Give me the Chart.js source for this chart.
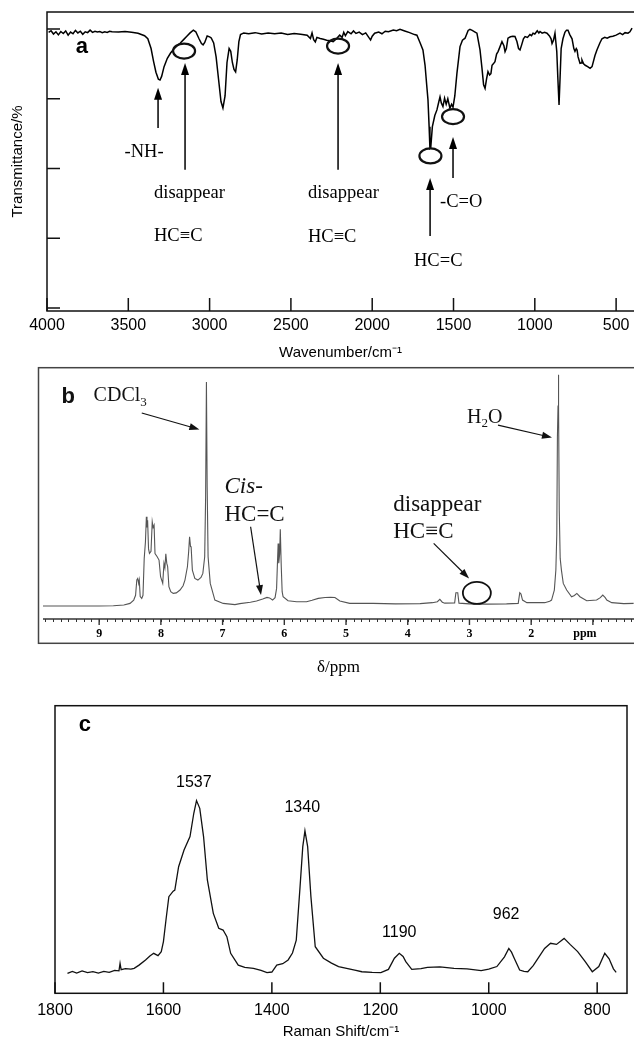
<!DOCTYPE html>
<html><head><meta charset="utf-8">
<script src="https://cdn.jsdelivr.net/npm/chart.js@4.4.1/dist/chart.umd.min.js"></script>
<style>
html,body{margin:0;padding:0;background:#fff;width:634px;height:1039px;overflow:hidden;position:relative}
canvas{position:absolute;left:0}
</style></head><body>
<canvas id="ca" width="634" height="370" style="top:0px"></canvas>
<canvas id="cb" width="634" height="320" style="top:360px"></canvas>
<canvas id="cc" width="634" height="360" style="top:690px"></canvas>
<script>
// ---------- Panel a : FT-IR ----------
const irWavenumber = [3990,3975,3960,3945,3930,3915,3900,3885,3870,3855,3840,3825,3810,3795,3780,3765,3750,3735,3720,3705,3690,3675,3660,3645,3630,3615,3600,3560,3520,3480,3440,3400,3380,3360,3345,3330,3315,3305,3295,3280,3260,3240,3220,3200,3180,3160,3140,3120,3100,3085,3065,3050,3040,3030,3015,3000,2990,2975,2960,2945,2930,2918,2905,2893,2880,2870,2860,2850,2840,2830,2820,2810,2790,2760,2720,2680,2640,2600,2560,2520,2480,2440,2400,2380,2370,2360,2350,2340,2320,2300,2280,2260,2240,2220,2200,2185,2175,2165,2150,2130,2115,2100,2080,2060,2040,2020,2010,2000,1985,1960,1940,1920,1900,1870,1850,1829,1800,1770,1740,1725,1705,1688,1675,1665,1657,1650,1645,1640,1630,1615,1602,1590,1583,1575,1565,1555,1545,1535,1522,1512,1503,1492,1479,1460,1445,1429,1410,1399,1385,1370,1356,1345,1337,1325,1315,1306,1297,1288,1278,1270,1263,1255,1245,1235,1226,1215,1202,1190,1183,1175,1165,1150,1135,1122,1110,1100,1091,1080,1070,1060,1045,1030,1020,1011,1000,985,975,968,955,940,925,910,900,894,885,876,865,858,851,845,838,827,815,805,796,785,771,760,753,745,740,734,722,715,710,700,690,675,660,648,630,618,600,587,570,555,538,520,500,476,460,445,427,415,402];
const irTransmittance = [98.8,99.4,98.2,99.0,97.9,99.1,98.4,99.3,97.8,98.9,98.3,99.5,98.6,99.2,98.1,99.0,98.7,99.6,98.8,99.2,98.9,99.1,98.7,99.0,98.8,99.2,99.0,98.9,99.1,98.8,98.5,97.6,96.5,93.0,88.5,84.5,82.0,81.7,83.0,86.5,89.5,91.4,92.8,94.0,95.0,96.2,97.4,98.6,99.6,99.0,96.5,94.8,94.3,95.2,97.5,97.2,96.8,95.0,90.0,82.0,74.0,71.7,76.0,88.0,93.0,92.0,88.0,85.5,84.6,89.0,95.5,98.0,98.6,98.3,98.7,98.2,98.6,98.3,98.6,98.0,98.4,98.1,97.8,96.6,98.6,96.2,95.4,97.0,96.6,96.3,96.0,95.8,95.5,96.5,97.8,97.0,98.8,97.6,99.1,98.3,99.3,98.4,98.9,98.0,98.6,96.9,96.1,97.4,98.5,98.9,98.3,99.2,99.0,99.6,99.4,99.9,99.3,98.7,98.0,97.8,95.0,92.5,87.0,80.0,74.6,65.0,57.2,57.5,65.0,69.0,71.0,74.0,75.7,73.5,72.2,75.2,73.0,75.0,71.6,73.0,72.0,76.0,84.1,93.7,96.0,96.7,99.5,99.9,99.5,99.0,98.5,95.0,92.5,86.0,80.0,78.7,82.0,84.7,83.5,84.0,87.0,87.5,88.3,91.0,91.9,93.5,95.5,94.0,91.9,93.0,96.7,97.2,97.4,97.3,95.5,93.0,92.5,94.5,96.5,97.3,97.0,98.0,97.6,98.5,98.2,99.4,98.6,99.1,98.5,98.8,98.5,97.5,96.5,94.8,96.0,98.5,92.0,82.0,72.8,82.0,93.0,96.5,98.8,99.6,99.6,98.0,96.5,93.0,92.0,93.0,92.5,90.0,87.7,87.8,88.9,87.5,87.0,86.5,85.9,86.5,90.5,92.5,95.0,96.5,97.0,96.7,97.2,97.4,97.8,98.5,98.0,98.7,98.5,99.0,100.3];
const irTickValues = [4000,3500,3000,2500,2000,1500,1000,500];
const irYTickValues = [0,25,50,75,100];
const irArrows = [[3317,64.5,3317,78.9],[3151,49.5,3151,87.8],[2210,49.5,2210,87.8],[1644,25.8,1644,46.6],[1503,46.6,1503,61.3]];
const irCircles = [[3157,92.1],[2210,93.9],[1642,54.5],[1503,68.6]];
const irLabelText = ['-NH-','disappear','HC≡C','disappear','HC≡C','HC=C','-C=O'];
const irLabelX = [3403,3342,3342,2395,2395,1743,1583];
const irLabelY = [55.9,41.2,25.8,41.2,25.4,16.8,38.0];

// ---------- Panel b : 1H NMR ----------
const nmrShift = [9.91,9.0,8.77,8.60,8.50,8.44,8.41,8.39,8.375,8.36,8.35,8.335,8.31,8.29,8.27,8.25,8.235,8.225,8.215,8.20,8.185,8.16,8.14,8.125,8.11,8.095,8.06,8.03,8.005,7.97,7.95,7.935,7.92,7.905,7.89,7.87,7.84,7.80,7.75,7.69,7.64,7.61,7.57,7.55,7.535,7.52,7.51,7.49,7.45,7.40,7.35,7.32,7.29,7.275,7.262,7.25,7.235,7.20,7.125,6.99,6.80,6.72,6.55,6.45,6.35,6.28,6.24,6.19,6.15,6.125,6.11,6.10,6.09,6.075,6.065,6.05,6.035,6.02,5.94,5.80,5.64,5.55,5.45,5.34,5.25,5.18,5.10,4.94,4.56,4.20,3.80,3.60,3.52,3.48,3.44,3.40,3.24,3.22,3.19,3.17,3.00,2.72,2.40,2.21,2.185,2.165,2.14,2.07,1.885,1.78,1.70,1.67,1.625,1.60,1.585,1.575,1.565,1.56,1.553,1.545,1.53,1.51,1.48,1.425,1.345,1.30,1.26,1.21,1.10,0.94,0.88,0.84,0.80,0.775,0.695,0.50,0.34];
const nmrIntensity = [0.0,0.0,0.1,0.4,1.1,2.5,4.5,11.0,11.6,9.5,10.9,4.0,3.2,4.5,20.0,27.0,37.5,33.0,36.0,24.0,22.1,23.0,35.4,33.0,34.0,22.0,20.7,19.3,12.3,9.5,17.9,16.0,21.9,18.0,16.5,8.1,6.0,5.3,5.5,6.7,8.5,10.9,16.5,22.8,29.1,25.0,24.9,15.1,11.6,10.9,12.0,13.7,20.7,45.9,94.1,50.0,20.7,9.5,2.5,1.1,0.6,1.0,1.6,2.1,2.9,3.6,3.4,2.5,3.5,7.4,19.0,26.3,18.0,22.0,32.2,17.0,6.0,3.9,2.2,1.8,1.8,2.4,3.2,3.6,3.7,3.6,2.1,1.1,1.1,0.9,1.0,1.4,1.8,2.8,1.6,1.2,1.3,5.6,5.6,1.2,0.9,0.8,0.9,1.1,5.6,5.0,2.5,1.4,1.5,1.4,2.0,2.5,6.7,15.1,30.0,71.0,84.0,97.2,84.0,40.0,20.0,15.1,9.5,6.7,3.9,4.4,5.3,3.9,2.2,2.5,3.5,4.6,3.5,2.5,1.4,1.0,1.1];
const nmrTickValues = [9,8,7,6,5,4,3,2,1.13];
const nmrTickLabels = ['9','8','7','6','5','4','3','2','ppm'];
const nmrMajorTicks = [9,8,7,6,5,4,3,2,1];
const nmrArrows = [[8.31,81.1,7.376,74.2],[6.546,33.3,6.378,4.6],[3.58,26.3,3.006,11.6],[2.538,76.0,1.663,70.8]];
const nmrCircle = [2.88,5.5];

// ---------- Panel c : Raman ----------
const ramanShift = [1777,1768,1760,1750,1740,1730,1720,1710,1700,1690,1682,1680,1678,1670,1660,1654,1645,1633,1625,1618,1610,1604,1600,1595,1590,1582,1579,1572,1562,1551,1544,1539,1533,1526,1519,1508,1498,1490,1483,1476,1462,1450,1434,1420,1409,1400,1391,1380,1370,1362,1355,1348,1343,1339,1334,1328,1320,1305,1290,1277,1260,1245,1234,1215,1199,1185,1174,1165,1158,1153,1142,1125,1113,1090,1064,1040,1014,1000,985,971,963,958,953,943,935,928,918,911,897,886,875,861,850,836,822,809,797,786,778,770,765];
const ramanIntensity = [6.9,7.6,7.0,7.8,7.2,7.5,7.0,7.6,7.3,8.0,7.8,10.4,8.2,8.6,8.4,8.7,9.8,11.6,13.0,13.9,13.1,14.5,18.0,26.0,33.6,35.5,35.9,44.0,49.8,54.5,62.6,67.0,64.3,54.5,39.4,27.8,22.6,22.0,19.7,13.9,9.8,9.0,8.7,8.0,7.2,7.4,9.8,10.3,11.6,14.0,18.5,37.1,51.0,56.5,51.0,33.6,16.2,12.2,10.5,9.3,8.6,8.0,7.5,7.3,7.2,8.3,12.2,13.9,12.8,11.0,8.3,8.6,9.0,9.2,8.7,8.5,7.9,8.4,9.3,12.7,15.6,14.3,12.2,8.1,7.6,7.5,9.6,11.6,15.6,17.4,17.0,19.1,17.0,14.5,11.0,7.5,9.3,13.9,12.0,8.5,7.3];
const ramanTickValues = [1800,1600,1400,1200,1000,800];
const ramanPeakLabels = ['1537','1340','1190','962'];
const ramanLabelX = [1544,1344,1165,968];
const ramanLabelY = [73.2,64.5,21.1,27.2];

// ---------- helpers ----------
const SERIF = '"Liberation Serif","Times New Roman",serif';
const SANS = '"Liberation Sans",Arial,Helvetica,sans-serif';
Chart.defaults.color = '#000';
Chart.defaults.font.family = SANS;

function pts(xs, ys){ return xs.map((v,i)=>({x:v, y:ys[i]})); }
function arrow(ctx, x1, y1, x2, y2, hl, hw){
  const a = Math.atan2(y2-y1, x2-x1);
  ctx.beginPath(); ctx.moveTo(x1,y1);
  ctx.lineTo(x2 - Math.cos(a)*hl*0.8, y2 - Math.sin(a)*hl*0.8); ctx.stroke();
  ctx.beginPath(); ctx.moveTo(x2,y2);
  ctx.lineTo(x2 - Math.cos(a)*hl + Math.sin(a)*hw, y2 - Math.sin(a)*hl - Math.cos(a)*hw);
  ctx.lineTo(x2 - Math.cos(a)*hl - Math.sin(a)*hw, y2 - Math.sin(a)*hl + Math.cos(a)*hw);
  ctx.closePath(); ctx.fill();
}
function ellipse(ctx, x, y, rx, ry){
  ctx.beginPath(); ctx.ellipse(x, y, rx, ry, 0, 0, Math.PI*2); ctx.stroke();
}
function rich(ctx, x, y, parts, align){
  let w = 0;
  parts.forEach(p=>{ ctx.font = p[1]; w += ctx.measureText(p[0]).width; });
  let cx = align === 'center' ? x - w/2 : x;
  ctx.textAlign = 'left'; ctx.textBaseline = 'middle';
  parts.forEach(p=>{ ctx.font = p[1]; ctx.fillText(p[0], cx, y + (p[2]||0)); cx += ctx.measureText(p[0]).width; });
}
function lineDS(xs, ys, color, width){
  return { data: pts(xs, ys), borderColor: color, borderWidth: width, pointRadius: 0, tension: 0, fill: false };
}
const baseOpts = { responsive:false, animation:false, devicePixelRatio:1,
  plugins:{ legend:{display:false}, tooltip:{enabled:false} } };

// ---------- Chart a ----------
new Chart(document.getElementById('ca'), {
  type:'line',
  data:{ datasets:[ lineDS(irWavenumber, irTransmittance, '#000', 1.5) ] },
  options:{ ...baseOpts,
    layout:{ padding:{ top:12, left:0, right:0, bottom:0 } },
    scales:{
      x:{ type:'linear', reverse:true, min:390, max:4000,
        afterBuildTicks:s=>{ s.ticks = irTickValues.map(v=>({value:v})); },
        ticks:{ font:{size:16, family:SANS}, color:'#000', padding:5, maxRotation:0, autoSkip:false, callback:v=>String(v) },
        grid:{ display:false, drawTicks:false }, border:{ display:false },
        title:{ display:true, text:'Wavenumber/cm⁻¹', font:{size:15, family:SANS}, color:'#000', padding:{top:0, bottom:8} },
        afterFit:s=>{ s.height = 59; s.paddingLeft = 0; s.paddingRight = 0; } },
      y:{ type:'linear', min:-1.1, max:106.1,
        afterBuildTicks:s=>{ s.ticks = irYTickValues.map(v=>({value:v})); },
        ticks:{ display:false }, grid:{ display:false, drawTicks:false }, border:{ display:false },
        title:{ display:true, text:'Transmittance/%', font:{size:15, family:SANS}, color:'#000', padding:{top:9, bottom:0} },
        afterFit:s=>{ s.width = 47; s.paddingTop = 0; s.paddingBottom = 0; } }
    }
  },
  plugins:[{ id:'decoA', afterDraw(chart){
    const {ctx, chartArea:ca, scales:{x, y}} = chart;
    ctx.save();
    ctx.strokeStyle = '#111'; ctx.fillStyle = '#000'; ctx.lineWidth = 1.5;
    ctx.beginPath();
    ctx.moveTo(ca.right+2, ca.top); ctx.lineTo(ca.left, ca.top); ctx.lineTo(ca.left, ca.bottom); ctx.lineTo(ca.right+2, ca.bottom);
    ctx.stroke();
    ctx.beginPath();
    x.ticks.forEach(t=>{ const p = x.getPixelForValue(t.value); ctx.moveTo(p, ca.bottom); ctx.lineTo(p, ca.bottom-13); });
    y.ticks.forEach(t=>{ const p = y.getPixelForValue(t.value); ctx.moveTo(ca.left, p); ctx.lineTo(ca.left+13, p); });
    ctx.stroke();
    ctx.lineWidth = 1.6;
    irArrows.forEach(a=>arrow(ctx, x.getPixelForValue(a[0]), y.getPixelForValue(a[1]), x.getPixelForValue(a[2]), y.getPixelForValue(a[3]), 12, 4));
    ctx.lineWidth = 2.2;
    irCircles.forEach(c=>ellipse(ctx, x.getPixelForValue(c[0]), y.getPixelForValue(c[1]), 11, 7.5));
    irLabelText.forEach((t,i)=>rich(ctx, x.getPixelForValue(irLabelX[i]), y.getPixelForValue(irLabelY[i]), [[t, '18.5px '+SERIF]], i===0?'center':'left'));
    rich(ctx, x.getPixelForValue(3785), y.getPixelForValue(93.5), [['a', 'bold 22px '+SANS]], 'center');
    ctx.restore();
  }}]
});

// ---------- Chart b ----------
new Chart(document.getElementById('cb'), {
  type:'line',
  data:{ datasets:[ lineDS(nmrShift, nmrIntensity, '#555', 1.1) ] },
  options:{ ...baseOpts,
    layout:{ padding:{ top:8, left:0, right:0, bottom:0 } },
    scales:{
      x:{ type:'linear', reverse:true, min:0.334, max:9.91,
        afterBuildTicks:s=>{ s.ticks = nmrTickValues.map(v=>({value:v})); },
        ticks:{ font:{size:12, family:SERIF, weight:'bold'}, color:'#000', padding:8, maxRotation:0, autoSkip:false,
          callback:(v)=>nmrTickLabels[nmrTickValues.indexOf(v)] },
        grid:{ display:false, drawTicks:false }, border:{ display:false },
        title:{ display:true, text:'δ/ppm', font:{size:17, family:SERIF}, color:'#000', padding:{top:0, bottom:2} },
        afterFit:s=>{ s.height = 61; s.paddingLeft = 0; s.paddingRight = 0; } },
      y:{ type:'linear', min:-5.46, max:100,
        ticks:{ display:false }, grid:{ display:false, drawTicks:false }, border:{ display:false },
        afterFit:s=>{ s.width = 43; s.paddingTop = 0; s.paddingBottom = 0; } }
    }
  },
  plugins:[{ id:'decoB', afterDraw(chart){
    const {ctx, chartArea:ca, scales:{x, y}} = chart;
    ctx.save();
    ctx.strokeStyle = '#444'; ctx.lineWidth = 1.5;
    ctx.strokeRect(ca.left-4.5, ca.top-0.3, 700, ca.bottom + 24.6 - ca.top);
    ctx.strokeStyle = '#333'; ctx.lineWidth = 1.3;
    ctx.beginPath(); ctx.moveTo(ca.left, ca.bottom); ctx.lineTo(ca.right, ca.bottom); ctx.stroke();
    ctx.lineWidth = 1;
    ctx.beginPath();
    for (let v = 0.375; v <= 9.9; v += 0.125) {
      const p = Math.round(x.getPixelForValue(v)) + 0.5; ctx.moveTo(p, ca.bottom); ctx.lineTo(p, ca.bottom + 3);
    }
    ctx.stroke();
    ctx.lineWidth = 1.4;
    ctx.beginPath();
    nmrMajorTicks.forEach(v=>{ const p = x.getPixelForValue(v); ctx.moveTo(p, ca.bottom); ctx.lineTo(p, ca.bottom + 6); });
    ctx.stroke();
    ctx.strokeStyle = '#111'; ctx.fillStyle = '#111'; ctx.lineWidth = 1.2;
    nmrArrows.forEach(a=>arrow(ctx, x.getPixelForValue(a[0]), y.getPixelForValue(a[1]), x.getPixelForValue(a[2]), y.getPixelForValue(a[3]), 10, 3.5));
    ctx.lineWidth = 1.8;
    ellipse(ctx, x.getPixelForValue(nmrCircle[0]), y.getPixelForValue(nmrCircle[1]), 14, 11);
    const f20 = '20px '+SERIF, f13 = '13px '+SERIF, f23 = '23px '+SERIF;
    rich(ctx, x.getPixelForValue(9.5), y.getPixelForValue(87.8), [['b', 'bold 22px '+SANS]], 'center');
    rich(ctx, x.getPixelForValue(9.09), y.getPixelForValue(88.2), [['CDCl', f20], ['3', f13, 6]], 'left');
    rich(ctx, x.getPixelForValue(6.97), y.getPixelForValue(50.1), [['Cis', 'italic 23px '+SERIF], ['-', f23]], 'left');
    rich(ctx, x.getPixelForValue(6.97), y.getPixelForValue(38.2), [['HC=C', f23]], 'left');
    rich(ctx, x.getPixelForValue(4.235), y.getPixelForValue(42.4), [['disappear', f23]], 'left');
    rich(ctx, x.getPixelForValue(4.235), y.getPixelForValue(31.2), [['HC≡C', f23]], 'left');
    rich(ctx, x.getPixelForValue(3.04), y.getPixelForValue(79.2), [['H', f20], ['2', f13, 6], ['O', f20]], 'left');
    ctx.restore();
  }}]
});

// ---------- Chart c ----------
new Chart(document.getElementById('cc'), {
  type:'line',
  data:{ datasets:[ lineDS(ramanShift, ramanIntensity, '#111', 1.3) ] },
  options:{ ...baseOpts,
    layout:{ padding:{ top:15.7, left:0, right:7, bottom:0 } },
    scales:{
      x:{ type:'linear', reverse:true, min:745, max:1800,
        afterBuildTicks:s=>{ s.ticks = ramanTickValues.map(v=>({value:v})); },
        ticks:{ font:{size:16, family:SANS}, color:'#000', padding:8, maxRotation:0, autoSkip:false, callback:v=>String(v) },
        grid:{ display:false, drawTicks:false }, border:{ display:false },
        title:{ display:true, text:'Raman Shift/cm⁻¹', font:{size:15, family:SANS}, color:'#000', padding:{top:0, bottom:9} },
        afterFit:s=>{ s.height = 56.7; s.paddingLeft = 0; s.paddingRight = 0; } },
      y:{ type:'linear', min:0, max:100,
        ticks:{ display:false }, grid:{ display:false, drawTicks:false }, border:{ display:false },
        afterFit:s=>{ s.width = 55; s.paddingTop = 0; s.paddingBottom = 0; } }
    }
  },
  plugins:[{ id:'decoC', afterDraw(chart){
    const {ctx, chartArea:ca, scales:{x, y}} = chart;
    ctx.save();
    ctx.strokeStyle = '#111'; ctx.fillStyle = '#000'; ctx.lineWidth = 1.5;
    ctx.strokeRect(ca.left, ca.top, ca.right - ca.left, ca.bottom - ca.top);
    ctx.beginPath();
    x.ticks.forEach(t=>{ const p = x.getPixelForValue(t.value); ctx.moveTo(p, ca.bottom); ctx.lineTo(p, ca.bottom-11); });
    ctx.stroke();
    ramanPeakLabels.forEach((t,i)=>rich(ctx, x.getPixelForValue(ramanLabelX[i]), y.getPixelForValue(ramanLabelY[i]), [[t, '16px '+SANS]], 'center'));
    rich(ctx, x.getPixelForValue(1745), y.getPixelForValue(93.3), [['c', 'bold 22px '+SANS]], 'center');
    ctx.restore();
  }}]
});
</script>
</body></html>
